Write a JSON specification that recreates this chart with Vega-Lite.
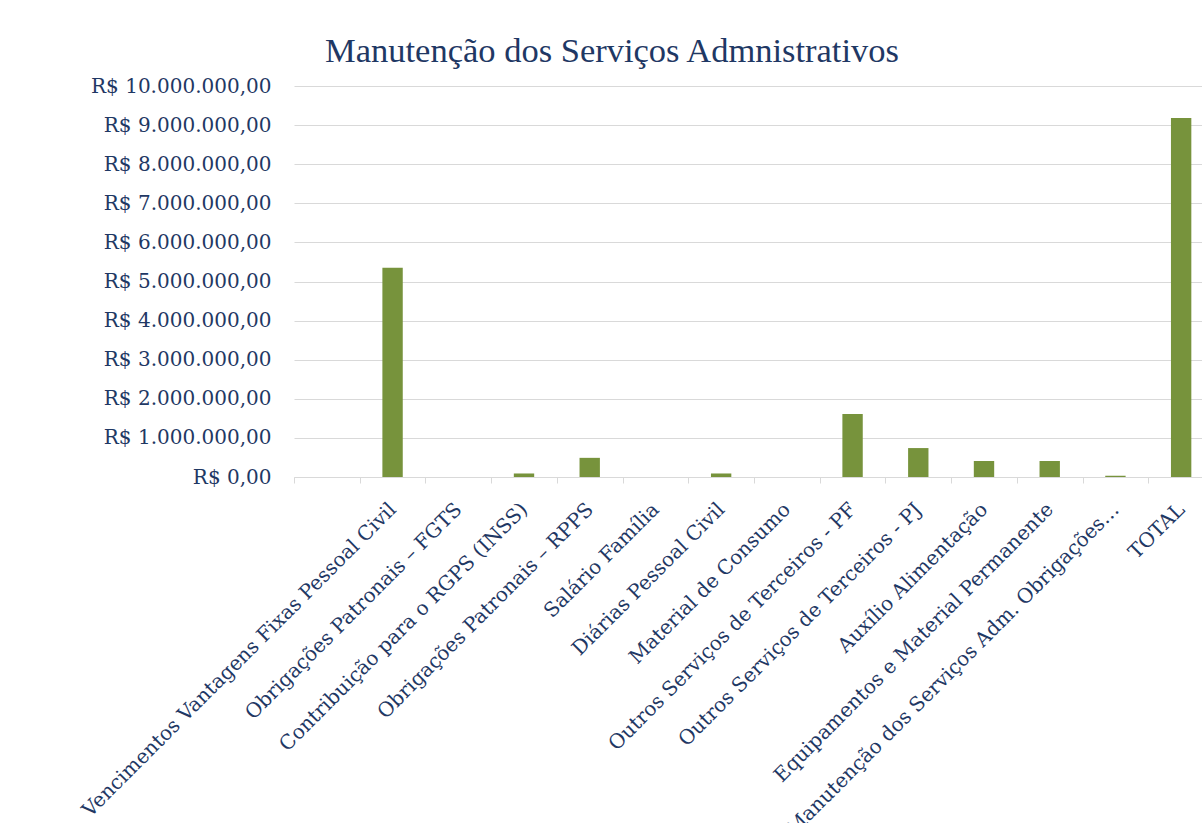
{
  "$schema": "https://vega.github.io/schema/vega-lite/v6.json",
  "autosize": "none",
  "width": 920,
  "height": 391,
  "padding": {"left": 294, "top": 86, "right": 0, "bottom": 346},
  "background": "white",
  "title": {
    "text": "Manutenção dos Serviços Admnistrativos",
    "anchor": "start",
    "frame": "group",
    "dx": 31,
    "dy": 43,
    "offset": 23,
    "baseline": "alphabetic",
    "font": "Liberation Serif",
    "fontSize": 34.5,
    "fontWeight": "normal",
    "color": "#1F3864"
  },
  "config": {
    "view": {"stroke": null},
    "locale": {"number": {"decimal": ",", "thousands": ".", "grouping": [3], "currency": ["R$ ", ""]}}
  },
  "data": {
    "values": [
      {"categoria": " ", "valor": 0},
      {"categoria": "Vencimentos Vantagens Fixas Pessoal Civil", "valor": 5350000},
      {"categoria": "Obrigações Patronais – FGTS", "valor": 0},
      {"categoria": "Contribuição para o RGPS (INSS)", "valor": 90000},
      {"categoria": "Obrigações Patronais – RPPS", "valor": 490000},
      {"categoria": "Salário Família", "valor": 0},
      {"categoria": "Diárias Pessoal Civil", "valor": 90000},
      {"categoria": "Material de Consumo", "valor": 0},
      {"categoria": "Outros Serviços de Terceiros - PF", "valor": 1610000},
      {"categoria": "Outros Serviços de Terceiros - PJ", "valor": 740000},
      {"categoria": "Auxílio Alimentação", "valor": 410000},
      {"categoria": "Equipamentos e Material Permanente", "valor": 410000},
      {"categoria": "Manutenção dos Serviços Adm. Obrigações…", "valor": 30000},
      {"categoria": "TOTAL", "valor": 9180000}
    ]
  },
  "mark": {"type": "bar", "color": "#77933C", "width": {"band": 0.31}},
  "encoding": {
    "x": {
      "field": "categoria",
      "type": "nominal",
      "sort": null,
      "scale": {"paddingInner": 0, "paddingOuter": 0},
      "axis": {
        "title": null,
        "labelAngle": -45,
        "labelAlign": "right",
        "labelBaseline": "middle",
        "labelFont": "DejaVu Serif",
        "labelFontSize": 20,
        "labelColor": "#1F3864",
        "labelPadding": 23,
        "labelLimit": 0,
        "domainColor": "#D9D9D9",
        "domainWidth": 1,
        "tickColor": "#D9D9D9",
        "tickSize": 6,
        "tickBand": "extent"
      }
    },
    "y": {
      "field": "valor",
      "type": "quantitative",
      "scale": {"domain": [0, 10000000], "nice": false},
      "axis": {
        "title": null,
        "values": [0, 1000000, 2000000, 3000000, 4000000, 5000000, 6000000, 7000000, 8000000, 9000000, 10000000],
        "labelOverlap": false,
        "labelLimit": 0,
        "format": "$,.2f",
        "labelFont": "DejaVu Serif",
        "labelFontSize": 20,
        "labelColor": "#1F3864",
        "labelPadding": 23,
        "domain": false,
        "ticks": false,
        "gridColor": "#D9D9D9",
        "gridWidth": 1
      }
    }
  }
}
